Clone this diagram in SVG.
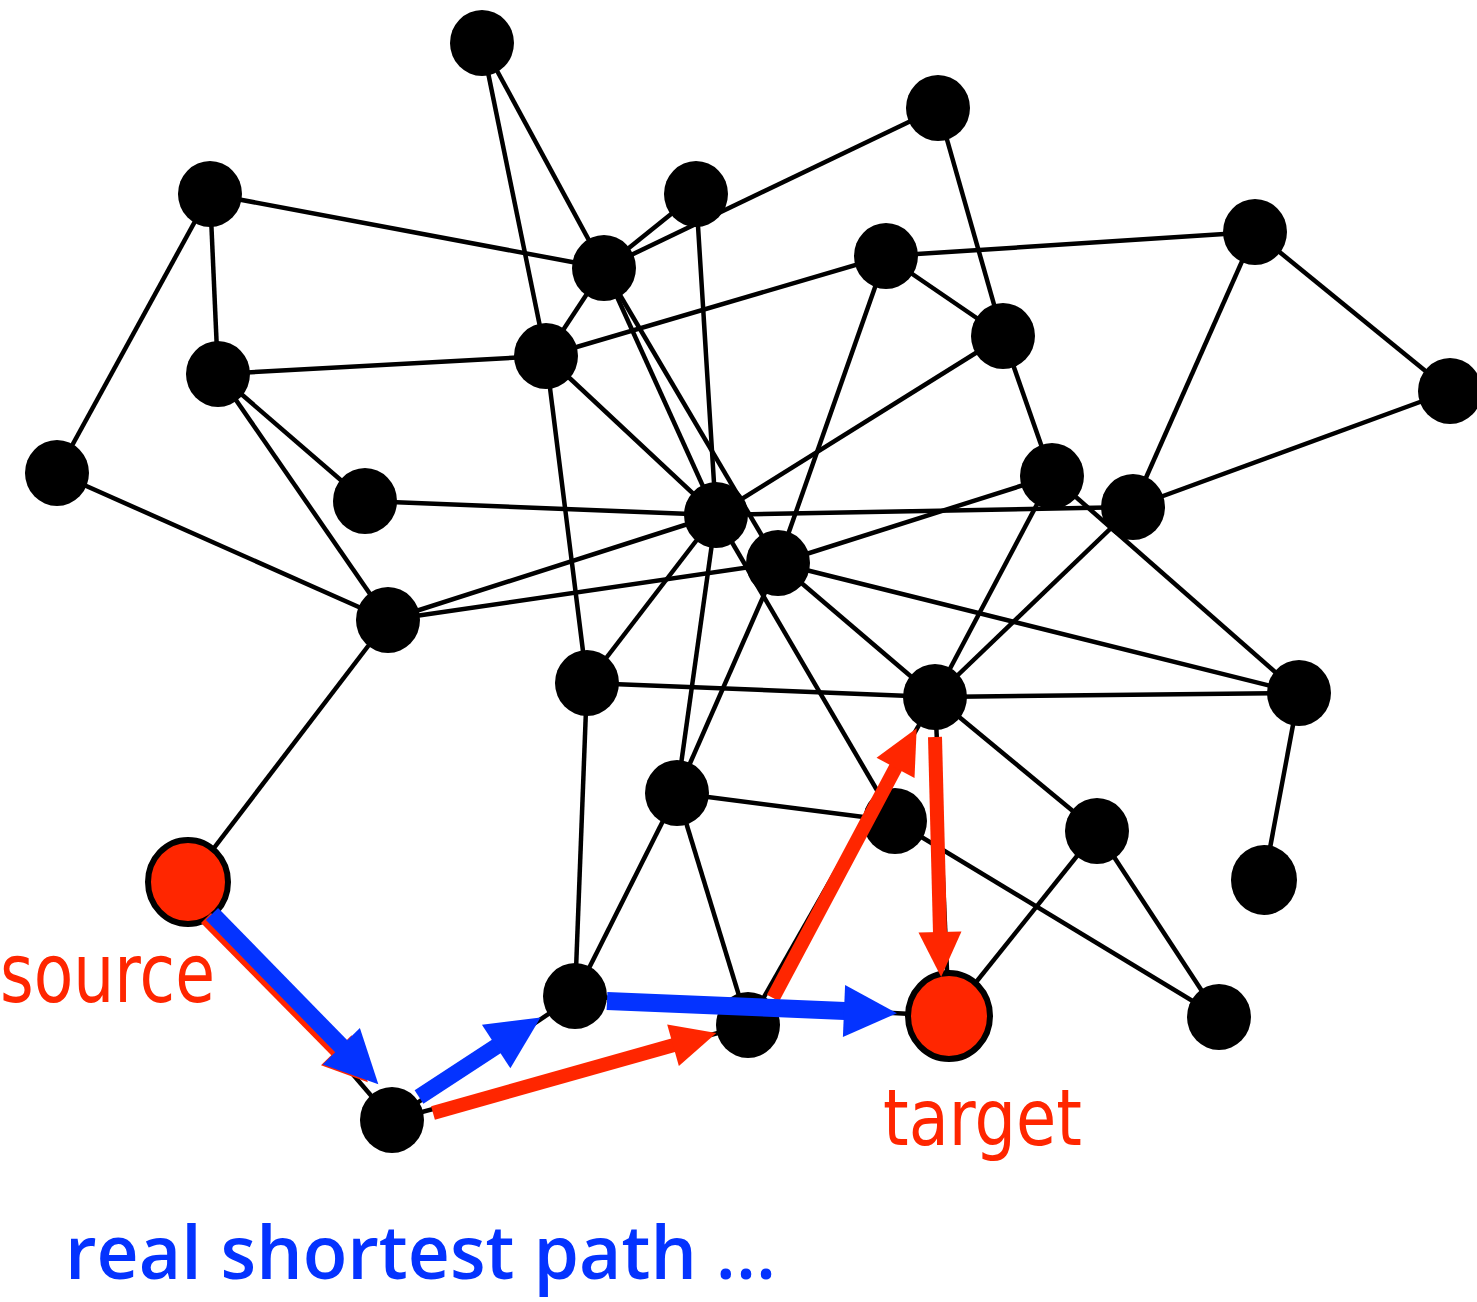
<svg xmlns="http://www.w3.org/2000/svg" width="1477" height="1302" viewBox="0 0 1477 1302">
<style>
.e{stroke:#000;stroke-width:4.5;fill:none}
.n{fill:#000}
.end{fill:#ff2600;stroke:#000;stroke-width:6}
.ra{stroke:#ff2600;stroke-width:14;fill:none}
.ba{stroke:#0433ff;fill:none}
.lbl{font-family:"DejaVu Sans","Liberation Sans",sans-serif;fill:#ff2600}
.cap{font-family:"Open Sans","Liberation Sans",sans-serif;font-weight:600;fill:#0433ff}
</style>
<defs>
<marker id="rh" markerUnits="userSpaceOnUse" markerWidth="45" markerHeight="43" viewBox="0 0 45 43" refX="1" refY="21.5" orient="auto" overflow="visible"><path d="M0,0 L45,21.5 L0,43 Z" fill="#ff2600"/></marker>
<marker id="bh" markerUnits="userSpaceOnUse" markerWidth="53" markerHeight="52" viewBox="0 0 53 52" refX="1" refY="26" orient="auto" overflow="visible"><path d="M0,0 L53,26 L0,52 Z" fill="#0433ff"/></marker>
</defs>
<g id="connectors">
<line class="e" x1="482" y1="43" x2="546" y2="356"/>
<line class="e" x1="482" y1="43" x2="604" y2="268"/>
<line class="e" x1="938" y1="108" x2="604" y2="268"/>
<line class="e" x1="938" y1="108" x2="1003" y2="336"/>
<line class="e" x1="210" y1="194" x2="604" y2="268"/>
<line class="e" x1="210" y1="194" x2="218" y2="374"/>
<line class="e" x1="210" y1="194" x2="57" y2="473"/>
<line class="e" x1="696" y1="194" x2="604" y2="268"/>
<line class="e" x1="696" y1="194" x2="716" y2="515"/>
<line class="e" x1="604" y1="268" x2="546" y2="356"/>
<line class="e" x1="604" y1="268" x2="716" y2="515"/>
<line class="e" x1="604" y1="268" x2="778" y2="563"/>
<line class="e" x1="886" y1="256" x2="1255" y2="232"/>
<line class="e" x1="886" y1="256" x2="1003" y2="336"/>
<line class="e" x1="886" y1="256" x2="546" y2="356"/>
<line class="e" x1="886" y1="256" x2="778" y2="563"/>
<line class="e" x1="1255" y1="232" x2="1133" y2="507"/>
<line class="e" x1="1255" y1="232" x2="1450" y2="391"/>
<line class="e" x1="1003" y1="336" x2="716" y2="515"/>
<line class="e" x1="1003" y1="336" x2="1052" y2="476"/>
<line class="e" x1="546" y1="356" x2="218" y2="374"/>
<line class="e" x1="546" y1="356" x2="716" y2="515"/>
<line class="e" x1="546" y1="356" x2="587" y2="683"/>
<line class="e" x1="218" y1="374" x2="365" y2="501"/>
<line class="e" x1="218" y1="374" x2="388" y2="620"/>
<line class="e" x1="1450" y1="391" x2="1133" y2="507"/>
<line class="e" x1="57" y1="473" x2="388" y2="620"/>
<line class="e" x1="365" y1="501" x2="716" y2="515"/>
<line class="e" x1="716" y1="515" x2="1133" y2="507"/>
<line class="e" x1="716" y1="515" x2="388" y2="620"/>
<line class="e" x1="716" y1="515" x2="587" y2="683"/>
<line class="e" x1="716" y1="515" x2="677" y2="793"/>
<line class="e" x1="716" y1="515" x2="895" y2="821"/>
<line class="e" x1="1052" y1="476" x2="778" y2="563"/>
<line class="e" x1="1052" y1="476" x2="935" y2="697"/>
<line class="e" x1="1052" y1="476" x2="1299" y2="693"/>
<line class="e" x1="1133" y1="507" x2="935" y2="697"/>
<line class="e" x1="778" y1="563" x2="388" y2="620"/>
<line class="e" x1="778" y1="563" x2="935" y2="697"/>
<line class="e" x1="778" y1="563" x2="1299" y2="693"/>
<line class="e" x1="778" y1="563" x2="677" y2="793"/>
<line class="e" x1="587" y1="683" x2="935" y2="697"/>
<line class="e" x1="587" y1="683" x2="575" y2="996"/>
<line class="e" x1="935" y1="697" x2="1299" y2="693"/>
<line class="e" x1="935" y1="697" x2="1097" y2="831"/>
<line class="e" x1="1299" y1="693" x2="1264" y2="880"/>
<line class="e" x1="677" y1="793" x2="895" y2="821"/>
<line class="e" x1="677" y1="793" x2="575" y2="996"/>
<line class="e" x1="677" y1="793" x2="748" y2="1025"/>
<line class="e" x1="895" y1="821" x2="1219" y2="1017"/>
<line class="e" x1="1097" y1="831" x2="949" y2="1016"/>
<line class="e" x1="1097" y1="831" x2="1219" y2="1017"/>
<line class="e" x1="388" y1="620" x2="188" y2="882"/>
<line class="e" x1="188" y1="882" x2="392" y2="1120"/>
<line class="e" x1="392" y1="1120" x2="575" y2="996"/>
<line class="e" x1="392" y1="1120" x2="748" y2="1025"/>
<line class="e" x1="575" y1="996" x2="949" y2="1016"/>
<line class="e" x1="748" y1="1025" x2="935" y2="697"/>
<line class="e" x1="935" y1="697" x2="949" y2="1016"/>
</g>
<g id="n1"><ellipse class="n" cx="482" cy="43" rx="32" ry="33"/></g>
<g id="n2"><ellipse class="n" cx="938" cy="108" rx="32" ry="33"/></g>
<g id="n3"><ellipse class="n" cx="210" cy="194" rx="32" ry="33"/></g>
<g id="n4"><ellipse class="n" cx="696" cy="194" rx="32" ry="33"/></g>
<g id="n5"><ellipse class="n" cx="604" cy="268" rx="32" ry="33"/></g>
<g id="n6"><ellipse class="n" cx="886" cy="256" rx="32" ry="33"/></g>
<g id="n7"><ellipse class="n" cx="1255" cy="232" rx="32" ry="33"/></g>
<g id="n8"><ellipse class="n" cx="1003" cy="336" rx="32" ry="33"/></g>
<g id="n9"><ellipse class="n" cx="546" cy="356" rx="32" ry="33"/></g>
<g id="n10"><ellipse class="n" cx="218" cy="374" rx="32" ry="33"/></g>
<g id="n11"><ellipse class="n" cx="1450" cy="391" rx="32" ry="33"/></g>
<g id="n12"><ellipse class="n" cx="57" cy="473" rx="32" ry="33"/></g>
<g id="n13"><ellipse class="n" cx="365" cy="501" rx="32" ry="33"/></g>
<g id="n14"><ellipse class="n" cx="716" cy="515" rx="32" ry="33"/></g>
<g id="n15"><ellipse class="n" cx="1052" cy="476" rx="32" ry="33"/></g>
<g id="n16"><ellipse class="n" cx="1133" cy="507" rx="32" ry="33"/></g>
<g id="n17"><ellipse class="n" cx="778" cy="563" rx="32" ry="33"/></g>
<g id="n18"><ellipse class="n" cx="388" cy="620" rx="32" ry="33"/></g>
<g id="n19"><ellipse class="n" cx="587" cy="683" rx="32" ry="33"/></g>
<g id="n20"><ellipse class="n" cx="935" cy="697" rx="32" ry="33"/></g>
<g id="n21"><ellipse class="n" cx="1299" cy="693" rx="32" ry="33"/></g>
<g id="n22"><ellipse class="n" cx="677" cy="793" rx="32" ry="33"/></g>
<g id="n23"><ellipse class="n" cx="895" cy="821" rx="32" ry="33"/></g>
<g id="n24"><ellipse class="n" cx="1097" cy="831" rx="32" ry="33"/></g>
<g id="n25"><ellipse class="n" cx="1264" cy="880" rx="33" ry="35"/></g>
<g id="n27"><ellipse class="n" cx="575" cy="996" rx="32" ry="33"/></g>
<g id="n28"><ellipse class="n" cx="748" cy="1025" rx="32" ry="33"/></g>
<g id="n30"><ellipse class="n" cx="1219" cy="1017" rx="32" ry="33"/></g>
<g id="n31"><ellipse class="n" cx="392" cy="1120" rx="32" ry="33"/></g>
<g id="source"><ellipse class="end" cx="188" cy="882" rx="40" ry="42"/><text class="lbl" x="0" y="1002" font-size="82" textLength="215" lengthAdjust="spacingAndGlyphs">source</text></g>
<g id="target"><ellipse class="end" cx="949" cy="1016" rx="41" ry="43"/><text class="lbl" x="883" y="1145" font-size="78" textLength="199" lengthAdjust="spacingAndGlyphs">target</text></g>
<g id="arrows">
<line class="ra" x1="206" y1="918" x2="337" y2="1051" marker-end="url(#rh)"/>
<line class="ra" x1="433" y1="1113" x2="674" y2="1045" marker-end="url(#rh)"/>
<line class="ra" x1="773" y1="998" x2="896" y2="767" marker-end="url(#rh)"/>
<line class="ra" x1="935" y1="737" x2="940" y2="933" marker-end="url(#rh)"/>
<line class="ba" stroke-width="17" x1="212" y1="914" x2="342" y2="1047" marker-end="url(#bh)"/>
<line class="ba" stroke-width="16" x1="419" y1="1097" x2="497" y2="1046" marker-end="url(#bh)"/>
<line class="ba" stroke-width="18" x1="607" y1="1001" x2="845" y2="1011" marker-end="url(#bh)"/>
</g>
<g id="caption"><text class="cap" x="65" y="1279" font-size="74" textLength="711" lengthAdjust="spacingAndGlyphs">real shortest path ...</text></g>
</svg>
